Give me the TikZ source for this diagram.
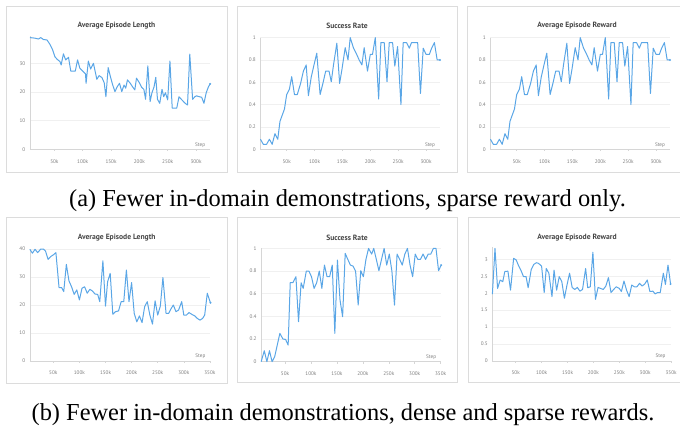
\documentclass[tikz,border=0pt]{standalone}
\usepackage{fontspec}
\setmainfont{Liberation Serif}
\newfontfamily\chartfont{PT Sans}
\usepackage{xcolor}
\usepackage{tikz}
\usetikzlibrary{calc}
\definecolor{linecol}{HTML}{5AA6E6}
\definecolor{gridcol}{HTML}{F0F0F0}
\definecolor{axiscol}{HTML}{D6D6D6}
\definecolor{framecol}{HTML}{DCDCDC}
\definecolor{labcol}{HTML}{7E7E7E}
\definecolor{titlecol}{HTML}{454545}
% axes of one chart: #1 name, #2 first step, #3 last step, #4 top, #5 y ticks, #6 x ticks
\newcommand{\chartaxes}[6]{%
  \foreach \v [count=\i] in {#5} {
    \draw[gridline] (#2,\v) -- (#3,\v);
    \node[vallab] (#1y\i) at (#2,\v) {\v};
  }
  \draw[axisline] (#2,0) -- (#3,0);
  \draw[axisline] (#2,0) -- (#2,#4);
  \foreach \s in {#6} {
    \draw[axisline] (\s,0) -- ++(0,-2pt);
    \node[ticklab] (#1x\s) at (\s,0) {\s k};
  }
  \node[steplab] (#1step) at (#3,0) {Step};
}
% the success curve, drawn twice in the top row
\newcommand{\ratecurve}{%
  \draw[curve] plot coordinates {(3,0.09) (8,0.045) (14,0.045) (19,0.09) (24,0.045) (29,0.14) (34,0.09) (38,0.25) (46,0.36) (50,0.49) (55,0.54) (59,0.65) (64,0.49) (69,0.49) (75,0.59) (80,0.70) (85,0.755) (89,0.48) (94,0.645) (99,0.755) (104,0.86) (110,0.49) (115,0.59) (120,0.70) (126,0.70) (130,0.605) (134,0.755) (140,0.95) (145,0.59) (149,0.71) (155,0.91) (160,0.80) (164,1.0) (170,0.905) (176,0.845) (180,0.80) (185,0.755) (189,0.91) (195,0.70) (200,0.85) (204,0.85) (209,1.0) (215,0.45) (219,0.955) (225,0.955) (230,0.605) (234,0.955) (240,0.955) (244,0.745) (249,0.92) (255,0.40) (259,0.955) (265,0.955) (270,0.905) (274,0.955) (280,0.955) (285,0.955) (290,0.50) (295,0.905) (300,0.85) (306,0.85) (310,0.905) (315,0.955) (320,0.80) (325,0.80)};
  \fill[linecol] (325,0.80) circle (1.1pt);
}

\begin{document}
\begin{tikzpicture}[x=1pt,y=-1pt,
    frame/.style={draw=framecol,line width=0.6pt},
    gridline/.style={draw=gridcol,line width=0.5pt},
    axisline/.style={draw=axiscol,line width=0.5pt},
    curve/.style={draw=linecol,line width=1pt,line join=round},
    charttitle/.style={font=\chartfont\bfseries\fontsize{7.6}{9}\selectfont,text=titlecol},
    vallab/.style={font=\chartfont\fontsize{5.2}{6}\selectfont,text=labcol,anchor=east,inner sep=0pt,xshift=-4.5pt},
    ticklab/.style={font=\chartfont\fontsize{5.2}{6}\selectfont,text=labcol,inner sep=0pt,yshift=-12pt},
    steplab/.style={font=\chartfont\fontsize{5.2}{6}\selectfont,text=labcol,inner sep=0pt,xshift=-10pt,yshift=4.5pt},
    caption/.style={font=\fontsize{24.4}{28}\selectfont,anchor=base}]
  \useasboundingbox (0,0) rectangle (680,426);

  % top row: fewer demonstrations, sparse reward
  \draw[frame] (6,6) rectangle (227,172);
  \draw[frame] (237,6) rectangle (457,172);
  \draw[frame] (467,6) rectangle (690,172);
  \node[charttitle] (t1) at (116.5,26) {Average Episode Length};
  \node[charttitle] (t2) at (347,26) {Success Rate};
  \node[charttitle] (t3) at (577,26) {Average Episode Reward};

  \begin{scope}[shift={(26,149.3)},x=0.5667pt,y=2.857pt]
    \chartaxes{a}{7}{325}{39.5}{0,10,20,30}{50,100,150,200,250,300}
    \draw[curve] plot coordinates {(7,39.1) (16,38.9) (22,38.6) (26,39.1) (31,38.4) (37,38.3) (42,36.8) (47,34.8) (51,32.4) (55,31.5) (60,30.7) (62,29.5) (66,33.4) (70,31.3) (75,32.2) (79,27.4) (84,27.4) (87,27.4) (91,31.3) (95,28.4) (100,27.4) (105,26.4) (106,23.1) (110,30.9) (114,28.1) (119,30.1) (125,24.5) (129,25.8) (134,25.1) (138,23.3) (141,18.4) (145,28.6) (149,25.4) (153,22.5) (157,20.2) (161,21.9) (165,23.1) (169,20.2) (173,22.5) (176,21.4) (179,24.3) (184,23.1) (188,21.9) (192,20.8) (195,24.9) (200,23.3) (204,21.7) (208,21.0) (211,17.5) (215,29.2) (219,16.7) (222,19.6) (226,21.9) (229,25.2) (232,17.5) (236,16.1) (240,21.0) (243,18.4) (246,19.8) (250,17.3) (254,30.9) (258,14.4) (262,14.4) (266,14.4) (270,18.4) (275,17.3) (281,16.1) (285,15.5) (289,33.3) (294,17.5) (298,18.4) (301,18.7) (306,18.4) (310,18.2) (314,16.1) (318,19.8) (322,21.9) (325,22.9)};
    \fill[linecol] (325,22.9) circle (1.1pt);
  \end{scope}

  \begin{scope}[shift={(258.8,149.3)},x=0.5574pt,y=111.7pt]
    \chartaxes{b}{3}{325}{1}{0,0.2,0.4,0.6,0.8,1}{50,100,150,200,250,300}
    \ratecurve
  \end{scope}

  \begin{scope}[shift={(488.8,149.3)},x=0.5574pt,y=111.7pt]
    \chartaxes{c}{3}{325}{1}{0,0.2,0.4,0.6,0.8,1}{50,100,150,200,250,300}
    \ratecurve
  \end{scope}

  \node[caption] (capa) at (347.5,206) {(a) Fewer in-domain demonstrations, sparse reward only.};

  % bottom row: fewer demonstrations, dense and sparse rewards
  \draw[frame] (6,217) rectangle (227,383);
  \draw[frame] (237,217) rectangle (457,382);
  \draw[frame] (468,217) rectangle (690,382);
  \node[charttitle] (t4) at (116.7,237.3) {Average Episode Length};
  \node[charttitle] (t5) at (347,237.7) {Success Rate};
  \node[charttitle] (t6) at (577,237.3) {Average Episode Reward};

  \begin{scope}[shift={(27.2,361)},x=0.522pt,y=2.8pt]
    \chartaxes{d}{5}{351}{40}{0,10,20,30,40}{50,100,150,200,250,300,350}
    \draw[curve] plot coordinates {(5,39.9) (10,38.5) (15,39.9) (20,38.7) (26,40) (31,40) (35,39.3) (40,36.3) (45,37.3) (50,37.9) (55,38.7) (61,26.2) (66,26.2) (70,24.8) (75,34.5) (80,28.6) (85,26.5) (90,23.8) (95,25.4) (100,21.8) (105,26.0) (110,26.5) (115,24.2) (120,25.6) (125,25.0) (130,23.9) (135,23.8) (139,21.2) (145,35.8) (150,19.6) (154,28.3) (159,31.3) (164,16.7) (169,17.6) (175,17.9) (180,21.2) (185,21.2) (190,32.5) (195,21.2) (200,28.0) (205,17.0) (210,14.0) (215,16.1) (220,13.7) (225,19.4) (230,21.2) (235,16.4) (240,13.2) (245,21.5) (250,16.4) (255,19.6) (260,29.8) (266,17.0) (271,17.0) (275,18.5) (280,20.0) (285,17.6) (290,18.2) (296,21.2) (300,16.4) (305,16.4) (310,17.3) (315,16.7) (321,16.1) (326,15.2) (331,14.6) (336,15.2) (340,16.4) (345,24.2) (351,20.8)};
    \fill[linecol] (351,20.8) circle (1.1pt);
  \end{scope}

  \begin{scope}[shift={(259.1,361.7)},x=0.5187pt,y=113.3pt]
    \chartaxes{e}{4}{351}{1}{0,0.2,0.4,0.6,0.8,1}{50,100,150,200,250,300,350}
    \draw[curve] plot coordinates {(4,0) (10,0.097) (15,0) (20,0.097) (25,0) (30,0.044) (35,0.147) (40,0.25) (46,0.20) (51,0.197) (56,0.147) (60,0.697) (65,0.697) (71,0.75) (76,0.353) (81,0.697) (85,0.647) (91,0.80) (96,0.80) (101,0.75) (106,0.647) (111,0.697) (116,0.80) (121,0.647) (126,0.853) (131,0.75) (136,0.75) (141,0.853) (146,0.25) (151,0.897) (156,0.544) (161,0.397) (166,0.956) (171,0.903) (176,0.853) (181,0.844) (186,0.80) (191,0.50) (196,0.803) (201,0.75) (206,0.903) (211,1.0) (217,0.95) (221,1.0) (226,0.903) (231,0.803) (236,0.903) (241,1.0) (246,0.853) (251,0.95) (256,0.80) (261,0.50) (266,0.95) (271,0.903) (276,0.853) (281,0.95) (286,1.0) (291,0.853) (296,0.75) (301,0.95) (306,0.903) (311,0.903) (316,0.95) (321,0.903) (326,0.95) (331,0.95) (336,1.0) (341,1.0) (346,0.803) (351,0.853)};
    \fill[linecol] (351,0.853) circle (1.1pt);
  \end{scope}

  \begin{scope}[shift={(489.8,361)},x=0.518pt,y=33.9pt]
    \chartaxes{f}{5}{349}{3.35}{0,0.5,1,1.5,2,2.5,3}{50,100,150,200,250,300,350}
    \draw[curve] plot coordinates {(5,1.97) (10,3.32) (15,2.14) (20,2.39) (25,2.34) (29,2.64) (35,2.65) (40,2.09) (46,3.03) (51,2.98) (55,2.83) (60,2.68) (65,2.49) (70,2.49) (74,2.16) (80,2.70) (85,2.85) (90,2.90) (94,2.88) (100,2.80) (105,2.02) (109,2.73) (114,2.59) (120,1.90) (124,2.68) (129,2.09) (134,2.49) (139,2.34) (144,1.85) (149,2.24) (154,2.59) (159,2.17) (164,2.11) (169,2.17) (174,2.06) (179,2.11) (185,2.73) (189,2.16) (194,2.19) (199,3.21) (204,1.82) (209,2.17) (214,2.14) (219,2.11) (224,2.21) (229,2.46) (234,2.02) (239,2.11) (244,2.19) (250,2.14) (254,2.05) (259,2.36) (264,2.09) (269,1.90) (274,2.24) (279,2.19) (284,2.19) (289,2.29) (294,2.21) (299,2.27) (304,2.39) (309,2.05) (315,2.06) (319,1.98) (324,2.02) (329,2.02) (335,2.59) (339,2.26) (344,2.83) (349,2.27)};
    \fill[linecol] (349,2.27) circle (1.1pt);
  \end{scope}

  \node[caption] (capb) at (343,420) {(b) Fewer in-domain demonstrations, dense and sparse rewards.};
\end{tikzpicture}
\end{document}
